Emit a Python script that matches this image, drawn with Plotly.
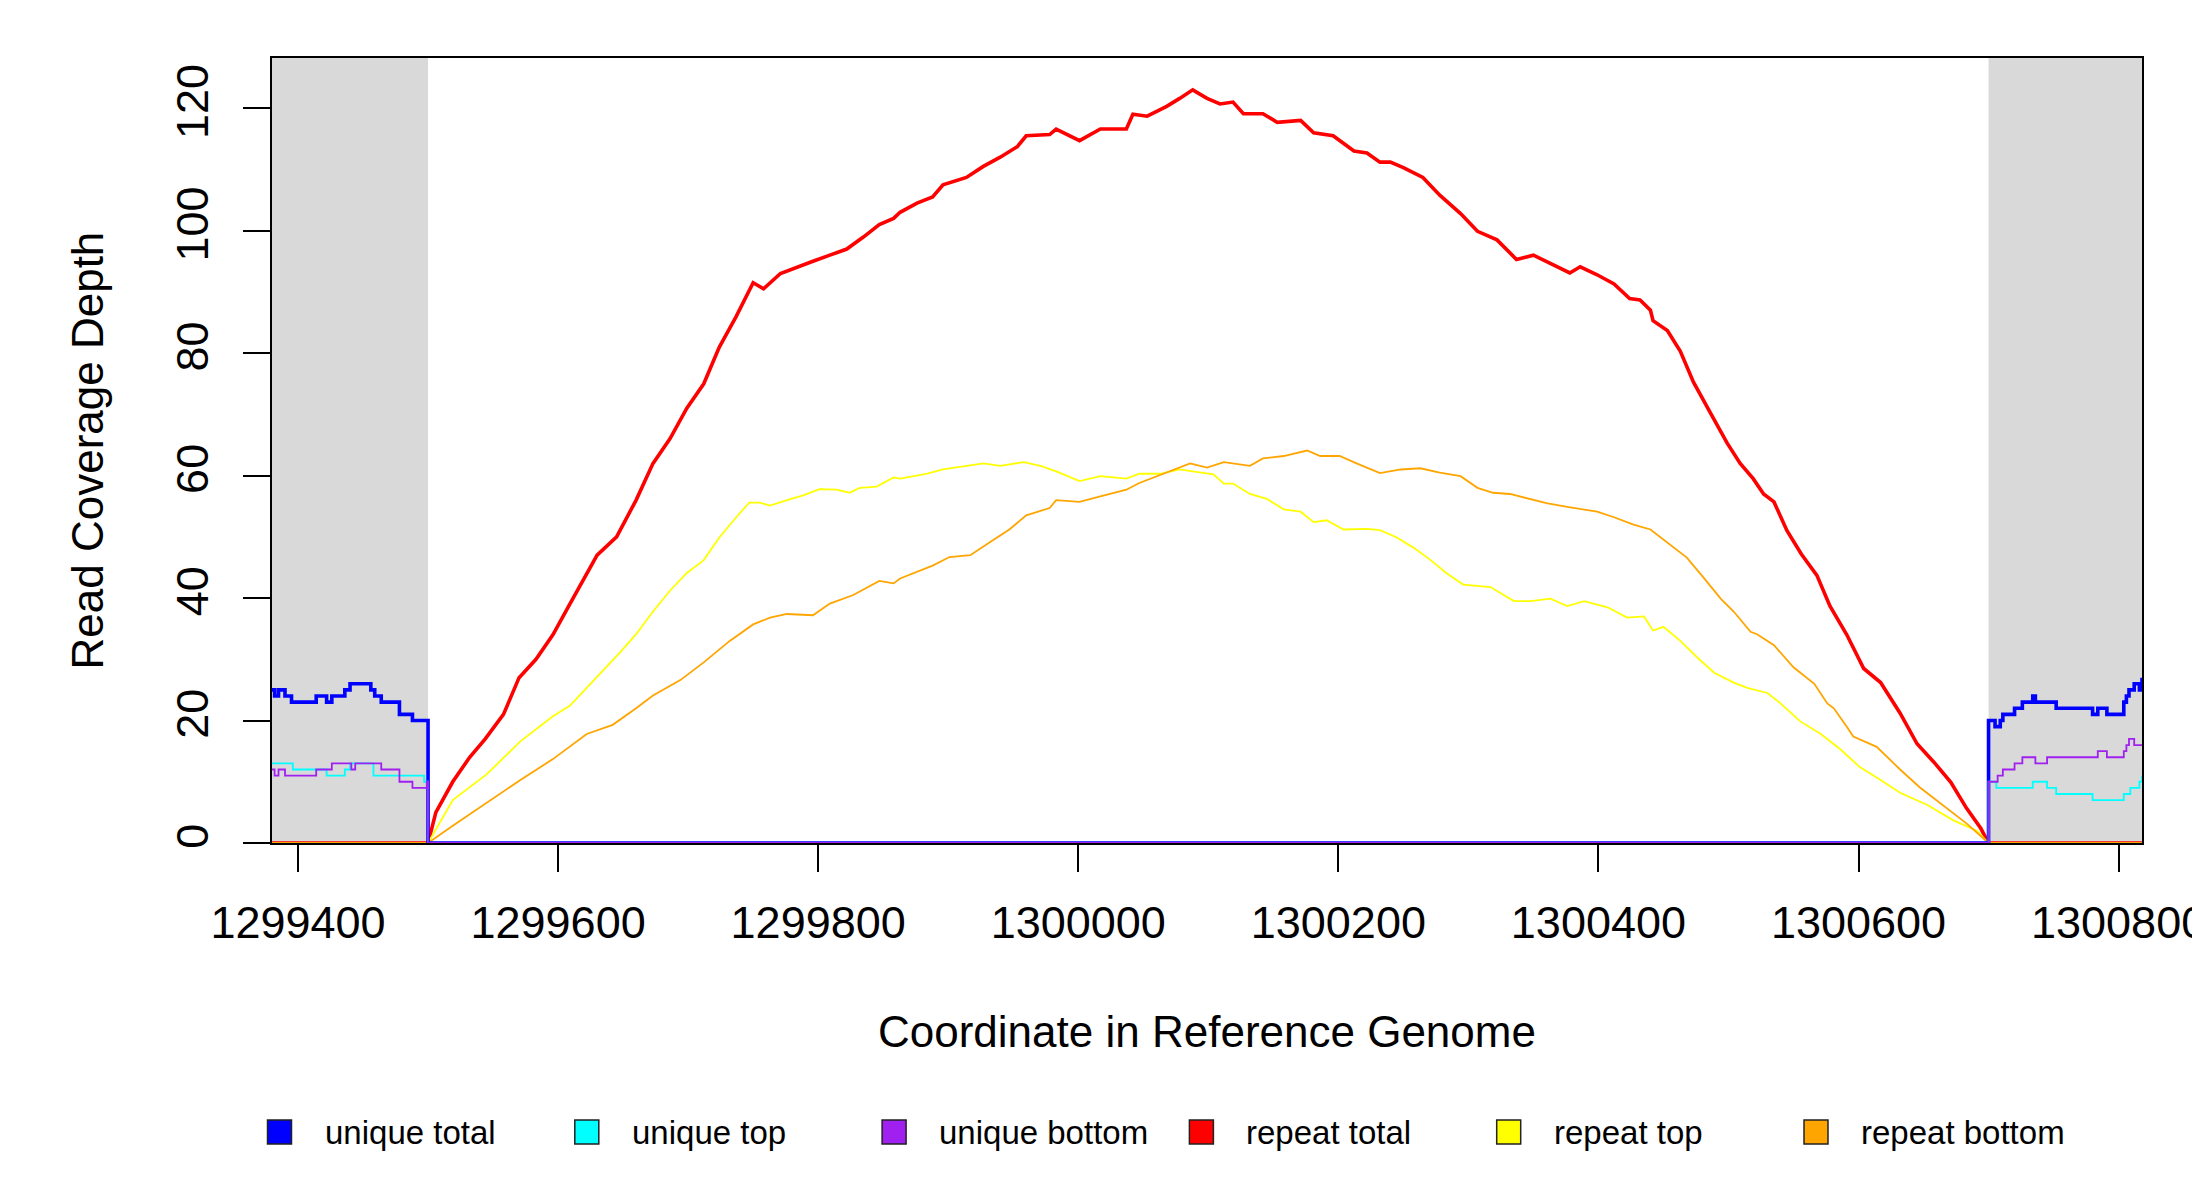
import plotly.graph_objects as go

# repeat region between the two grey (unique) flanks, and plotted window
repeat_start = 1299500
repeat_end = 1300700
x_lo, x_hi = 1299380, 1300818
y_top = 128.2

x_ticks = [1299400, 1299600, 1299800, 1300000, 1300200, 1300400, 1300600, 1300800]
y_ticks = [0, 20, 40, 60, 80, 100, 120]

# repeat total (red)
rep_total_pos = [1299380, 1299500, 1299506, 1299519, 1299532, 1299544, 1299558, 1299570, 1299583, 1299596,
                 1299609, 1299622, 1299630, 1299645, 1299660, 1299673, 1299686, 1299699, 1299712, 1299724,
                 1299737, 1299750, 1299758, 1299771, 1299783, 1299796, 1299809, 1299822, 1299835, 1299847,
                 1299858, 1299863, 1299876, 1299888, 1299896, 1299914, 1299927, 1299940, 1299953, 1299960,
                 1299978, 1299983, 1300001, 1300017, 1300037, 1300042, 1300053, 1300068, 1300078, 1300088,
                 1300099, 1300109, 1300119, 1300127, 1300142, 1300153, 1300171, 1300181, 1300196, 1300212,
                 1300222, 1300232, 1300240, 1300250, 1300265, 1300278, 1300294, 1300307, 1300322, 1300337,
                 1300350, 1300365, 1300378, 1300386, 1300399, 1300412, 1300424, 1300432, 1300440, 1300442,
                 1300453, 1300463, 1300473, 1300486, 1300499, 1300509, 1300519, 1300527, 1300535, 1300545,
                 1300556, 1300568, 1300578, 1300591, 1300604, 1300617, 1300632, 1300645, 1300658, 1300671,
                 1300683, 1300694, 1300700, 1300818]
rep_total = [0, 0, 5, 10, 14, 17, 21, 27, 30, 34,
             39, 44, 47, 50, 56, 62, 66, 71, 75, 81,
             86, 91.5, 90.5, 93, 94, 95, 96, 97, 99, 101,
             102, 103, 104.5, 105.5, 107.5, 108.7, 110.5, 112, 113.7, 115.5,
             115.7, 116.6, 114.7, 116.6, 116.6, 119, 118.7, 120.3, 121.6, 123,
             121.6, 120.7, 121, 119.1, 119.1, 117.7, 118, 116, 115.5, 113,
             112.7, 111.2, 111.2, 110.3, 108.7, 105.8, 102.8, 99.9, 98.5, 95.3,
             96, 94.5, 93.1, 94.1, 92.8, 91.3, 88.9, 88.7, 87, 85.3,
             83.7, 80.3, 75.3, 70.3, 65.3, 62, 59.5, 57, 55.7, 51,
             47.2, 43.7, 38.7, 34, 28.5, 26.2, 21.2, 16.2, 13.2, 9.9,
             5.7, 2.4, 0, 0]

# repeat top (yellow)
rep_top_pos = [1299380, 1299500, 1299519, 1299545, 1299571, 1299596, 1299609, 1299622, 1299635, 1299648,
               1299660, 1299673, 1299686, 1299699, 1299712, 1299724, 1299737, 1299747, 1299755, 1299763,
               1299776, 1299789, 1299801, 1299814, 1299824, 1299832, 1299845, 1299858, 1299863, 1299883,
               1299896, 1299914, 1299927, 1299940, 1299958, 1299971, 1299983, 1300001, 1300017, 1300037,
               1300047, 1300063, 1300078, 1300088, 1300104, 1300112, 1300119, 1300132, 1300145, 1300158,
               1300171, 1300181, 1300191, 1300204, 1300222, 1300232, 1300245, 1300258, 1300271, 1300283,
               1300296, 1300317, 1300335, 1300348, 1300363, 1300376, 1300389, 1300407, 1300422, 1300435,
               1300442, 1300450, 1300463, 1300476, 1300489, 1300504, 1300515, 1300530, 1300540, 1300555,
               1300571, 1300586, 1300601, 1300617, 1300632, 1300653, 1300673, 1300691, 1300700, 1300818]
rep_top = [0, 0, 7, 11.2, 16.6, 20.7, 22.4, 25.3, 28.2, 31.2,
           34.1, 37.8, 41.2, 44.1, 46.2, 49.9, 53.2, 55.6, 55.6, 55.1,
           56, 56.8, 57.8, 57.7, 57.2, 58, 58.2, 59.7, 59.5, 60.3,
           61, 61.6, 62, 61.6, 62.2, 61.6, 60.7, 59.1, 59.9, 59.5,
           60.3, 60.3, 61, 60.7, 60.2, 58.7, 58.7, 57, 56.2, 54.5,
           54.1, 52.4, 52.7, 51.2, 51.3, 51.1, 49.9, 48.2, 46.2, 44.1,
           42.2, 41.8, 39.5, 39.5, 39.9, 38.7, 39.5, 38.5, 36.8, 37,
           34.7, 35.3, 33, 30.3, 27.8, 26.2, 25.3, 24.5, 22.8, 19.9,
           17.8, 15.3, 12.4, 10.3, 8.2, 6.2, 3.7, 2, 0, 0]

# repeat bottom (orange)
rep_bot_pos = [1299380, 1299500, 1299519, 1299545, 1299571, 1299596, 1299622, 1299642, 1299660, 1299673,
               1299694, 1299712, 1299732, 1299750, 1299763, 1299776, 1299796, 1299809, 1299827, 1299847,
               1299858, 1299863, 1299888, 1299901, 1299917, 1299932, 1299947, 1299960, 1299978, 1299983,
               1300001, 1300017, 1300037, 1300047, 1300068, 1300086, 1300099, 1300112, 1300132, 1300142,
               1300158, 1300176, 1300186, 1300201, 1300214, 1300232, 1300248, 1300263, 1300278, 1300294,
               1300307, 1300319, 1300332, 1300345, 1300360, 1300376, 1300386, 1300399, 1300412, 1300427,
               1300440, 1300453, 1300468, 1300481, 1300494, 1300504, 1300509, 1300517, 1300522, 1300535,
               1300550, 1300566, 1300576, 1300581, 1300591, 1300596, 1300614, 1300632, 1300647, 1300665,
               1300683, 1300700, 1300818]
rep_bot = [0, 0, 2.8, 6.6, 10.3, 13.7, 17.8, 19.3, 22, 24.1,
           26.6, 29.5, 33, 35.7, 36.8, 37.4, 37.2, 39.1, 40.5, 42.8,
           42.4, 43.2, 45.3, 46.7, 47, 49.1, 51.2, 53.5, 54.7, 56,
           55.7, 56.6, 57.7, 58.8, 60.5, 62, 61.3, 62.2, 61.6, 62.8,
           63.2, 64.1, 63.2, 63.2, 62, 60.4, 61, 61.2, 60.5, 59.9,
           58, 57.2, 57, 56.3, 55.5, 54.9, 54.5, 54.1, 53.2, 52,
           51.2, 49.1, 46.6, 43.3, 39.9, 37.8, 36.6, 34.5, 34.1, 32.3,
           28.7, 26, 22.8, 22, 19, 17.4, 15.7, 12, 9.1, 6.2,
           3.2, 0, 0]

# unique total (blue), step values in the flanks, 0 over the repeat
uniq_total_pos = [1299380, 1299382, 1299385, 1299390, 1299395, 1299414, 1299422, 1299426, 1299436, 1299440,
                  1299456, 1299459, 1299464, 1299478, 1299488, 1299500,
                  1300700, 1300705, 1300709, 1300711, 1300720, 1300726, 1300734, 1300736, 1300752, 1300780,
                  1300784, 1300791, 1300804, 1300806, 1300808, 1300812, 1300816, 1300818]
uniq_total = [25, 24, 25, 24, 23, 24, 23, 24, 25, 26,
              25, 24, 23, 21, 20, 0,
              20, 19, 20, 21, 22, 23, 24, 23, 22, 21,
              22, 21, 23, 24, 25, 26, 25, 27]

# unique top (cyan)
uniq_top_pos = [1299380, 1299396, 1299422, 1299436, 1299440, 1299458, 1299497, 1299500,
                1300700, 1300706, 1300734, 1300745, 1300752, 1300780, 1300804, 1300809, 1300816, 1300818]
uniq_top = [13, 12, 11, 12, 13, 11, 10, 0,
            10, 9, 10, 9, 8, 7, 8, 9, 10, 11]

# unique bottom (purple)
uniq_bot_pos = [1299380, 1299382, 1299385, 1299390, 1299414, 1299426, 1299441, 1299444, 1299464, 1299478,
                1299488, 1299499, 1299500,
                1300700, 1300707, 1300711, 1300720, 1300726, 1300736, 1300745, 1300784, 1300791, 1300804,
                1300806, 1300808, 1300812, 1300818]
uniq_bot = [12, 11, 12, 11, 12, 13, 12, 13, 12, 10,
            9, 10, 0,
            10, 11, 12, 13, 14, 13, 14, 15, 14, 15,
            16, 17, 16, 16]

legend_names = ['unique total', 'unique top', 'unique bottom', 'repeat total', 'repeat top', 'repeat bottom']
legend_colors = ['#0000FF', '#00FFFF', '#A020F0', '#FF0000', '#FFFF00', '#FFA500']

FONT = 'Liberation Sans, Arial, Helvetica, sans-serif'

fig = go.Figure()
fig.add_trace(go.Scatter(x=rep_total_pos, y=rep_total, mode='lines', line=dict(color='#FF0000', width=3.6)))
fig.add_trace(go.Scatter(x=rep_top_pos, y=rep_top, mode='lines', line=dict(color='#FFFF00', width=1.8)))
fig.add_trace(go.Scatter(x=rep_bot_pos, y=rep_bot, mode='lines', line=dict(color='#FFA500', width=1.8)))
fig.add_trace(go.Scatter(x=uniq_total_pos, y=uniq_total, mode='lines', line=dict(color='#0000FF', width=3.6, shape='hv')))
fig.add_trace(go.Scatter(x=uniq_top_pos, y=uniq_top, mode='lines', line=dict(color='#00FFFF', width=1.8, shape='hv')))
fig.add_trace(go.Scatter(x=uniq_bot_pos, y=uniq_bot, mode='lines', line=dict(color='#A020F0', width=1.8, shape='hv')))

# grey flanks outside the repeat
for a, b in [(x_lo, repeat_start), (repeat_end, x_hi)]:
    fig.add_shape(type='rect', xref='x', yref='paper', x0=a, x1=b, y0=0, y1=1,
                  fillcolor='#D9D9D9', line=dict(width=0), layer='below')

# legend drawn by hand: squares + labels under the plot (paper coords from pixels)
W, H = 1870, 785
for i, (nm, col) in enumerate(zip(legend_names, legend_colors)):
    cx = 279.5 + i * 307.3
    fig.add_shape(type='rect', xref='paper', yref='paper',
                  x0=(cx - 12 - 272) / W, x1=(cx + 12 - 272) / W,
                  y0=(843 - 1132 - 12) / H, y1=(843 - 1132 + 12) / H,
                  fillcolor=col, line=dict(color='#222222', width=1.5))
    fig.add_annotation(text=nm, xref='paper', yref='paper', x=(cx + 43 - 272) / W, y=(843 - 1132) / H,
                       xanchor='left', yanchor='middle', showarrow=False, font=dict(size=33, color='black'))

fig.add_annotation(text='Coordinate in Reference Genome', xref='paper', yref='paper', x=0.5, y=(843 - 1031) / H,
                   xanchor='center', yanchor='middle', showarrow=False, font=dict(size=44, color='black'))
fig.add_annotation(text='Read Coverage Depth', xref='paper', yref='paper', x=(87 - 272) / W, y=0.5,
                   textangle=-90, xanchor='center', yanchor='middle', showarrow=False, font=dict(size=44, color='black'))

axis_style = dict(showline=True, mirror=True, linecolor='black', linewidth=1.5, ticks='outside', ticklen=27,
                  tickwidth=1.5, tickcolor='black', showgrid=False, zeroline=False, ticklabeloverflow='allow',
                  automargin=False, tickfont=dict(size=45, color='black'))
fig.update_xaxes(range=[x_lo, x_hi], tickvals=x_ticks, ticktext=[str(v) for v in x_ticks],
                 layer='below traces', ticklabelstandoff=12, **axis_style)
fig.update_yaxes(range=[0, y_top], tickvals=y_ticks, tickangle=-90, ticklabelstandoff=17, **axis_style)

# page body has an 8px margin, so the figure is 8px smaller and margins shifted to keep the plot box in place
fig.update_layout(width=2192, height=1192, showlegend=False, plot_bgcolor='white', paper_bgcolor='white',
                  font=dict(family=FONT, color='black'), margin=dict(l=264, r=58, t=50, b=357))
fig.write_html("out.html")
